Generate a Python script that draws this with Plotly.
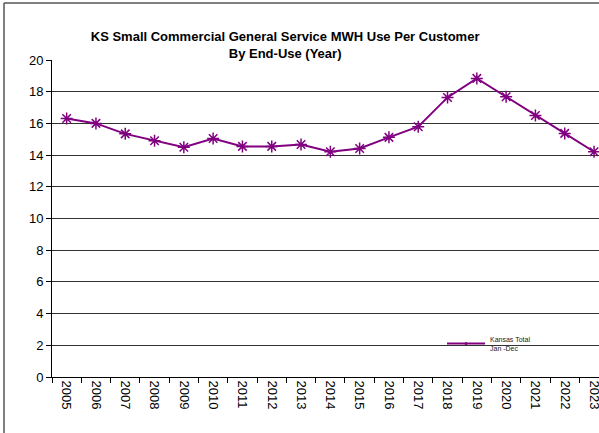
import plotly.graph_objects as go

years = [str(y) for y in range(2005, 2024)]
kansas_total = [16.31, 16.0, 15.34, 14.9, 14.5, 15.05, 14.55, 14.55, 14.67, 14.21,
                14.42, 15.12, 15.79, 17.64, 18.84, 17.68, 16.5, 15.37, 14.21]
y_ticks = list(range(0, 21, 2))

title_text = "KS Small Commercial General Service MWH Use Per Customer<br>By End-Use (Year)"
series_name = "Kansas Total<br>Jan -Dec"
purple = "#800080"

fig = go.Figure()
fig.add_trace(go.Scatter(
    x=years, y=kansas_total, mode="lines+markers", name=series_name,
    showlegend=False, legendgroup="ks",
    line=dict(color=purple, width=2),
    marker=dict(symbol="asterisk-open", size=10, color=purple,
                line=dict(color=purple, width=1.5)),
    cliponaxis=False,
))
# legend entry (line with a small dot, as in the reference key)
fig.add_trace(go.Scatter(
    x=[None], y=[None], mode="lines+markers", name=series_name, legendgroup="ks",
    line=dict(color=purple, width=2),
    marker=dict(symbol="circle", size=3, color=purple),
))

fig.update_layout(
    width=599, height=433,
    paper_bgcolor="white", plot_bgcolor="white",
    margin=dict(l=52, r=0, t=60, b=56, autoexpand=False),
    font=dict(family="Liberation Sans, Arial, sans-serif", color="black"),
    title=dict(text="<b>" + title_text + "</b>", x=0.476, xanchor="center",
               y=1 - 41 / 433, yanchor="middle", xref="container", yref="container",
               font=dict(size=13)),
    showlegend=True,
    legend=dict(x=390 / 547, xanchor="left", y=(377 - 328) / 317, yanchor="top",
                bgcolor="rgba(0,0,0,0)", font=dict(size=7, color="#222222"),
                itemwidth=38, tracegroupgap=0),
    xaxis=dict(type="category", range=[-0.5, 18.17], tickson="boundaries",
               ticks="outside", ticklen=5, tickcolor="black", tickangle=90,
               showline=True, linecolor="black", linewidth=1, automargin=False,
               showgrid=False, tickfont=dict(size=13)),
    yaxis=dict(range=[0, 20], tickvals=y_ticks, ticks="outside", ticklen=5,
               tickcolor="black", showline=True, linecolor="black", linewidth=1,
               showgrid=True, gridcolor="#333333", gridwidth=1, automargin=False,
               tickfont=dict(size=13), zeroline=False),
    shapes=[
        dict(type="line", xref="paper", yref="paper", x0=-48 / 547, x1=-48 / 547,
             y0=-1, y1=(377 - 3) / 317, line=dict(color="#555555", width=1.5)),
        dict(type="line", xref="paper", yref="paper", x0=-48 / 547, x1=1.2,
             y0=(377 - 3) / 317, y1=(377 - 3) / 317, line=dict(color="#555555", width=1.5)),
    ],
)

fig.write_html("out.html", config={"displayModeBar": False},
               post_script="document.body.style.margin='0';")
